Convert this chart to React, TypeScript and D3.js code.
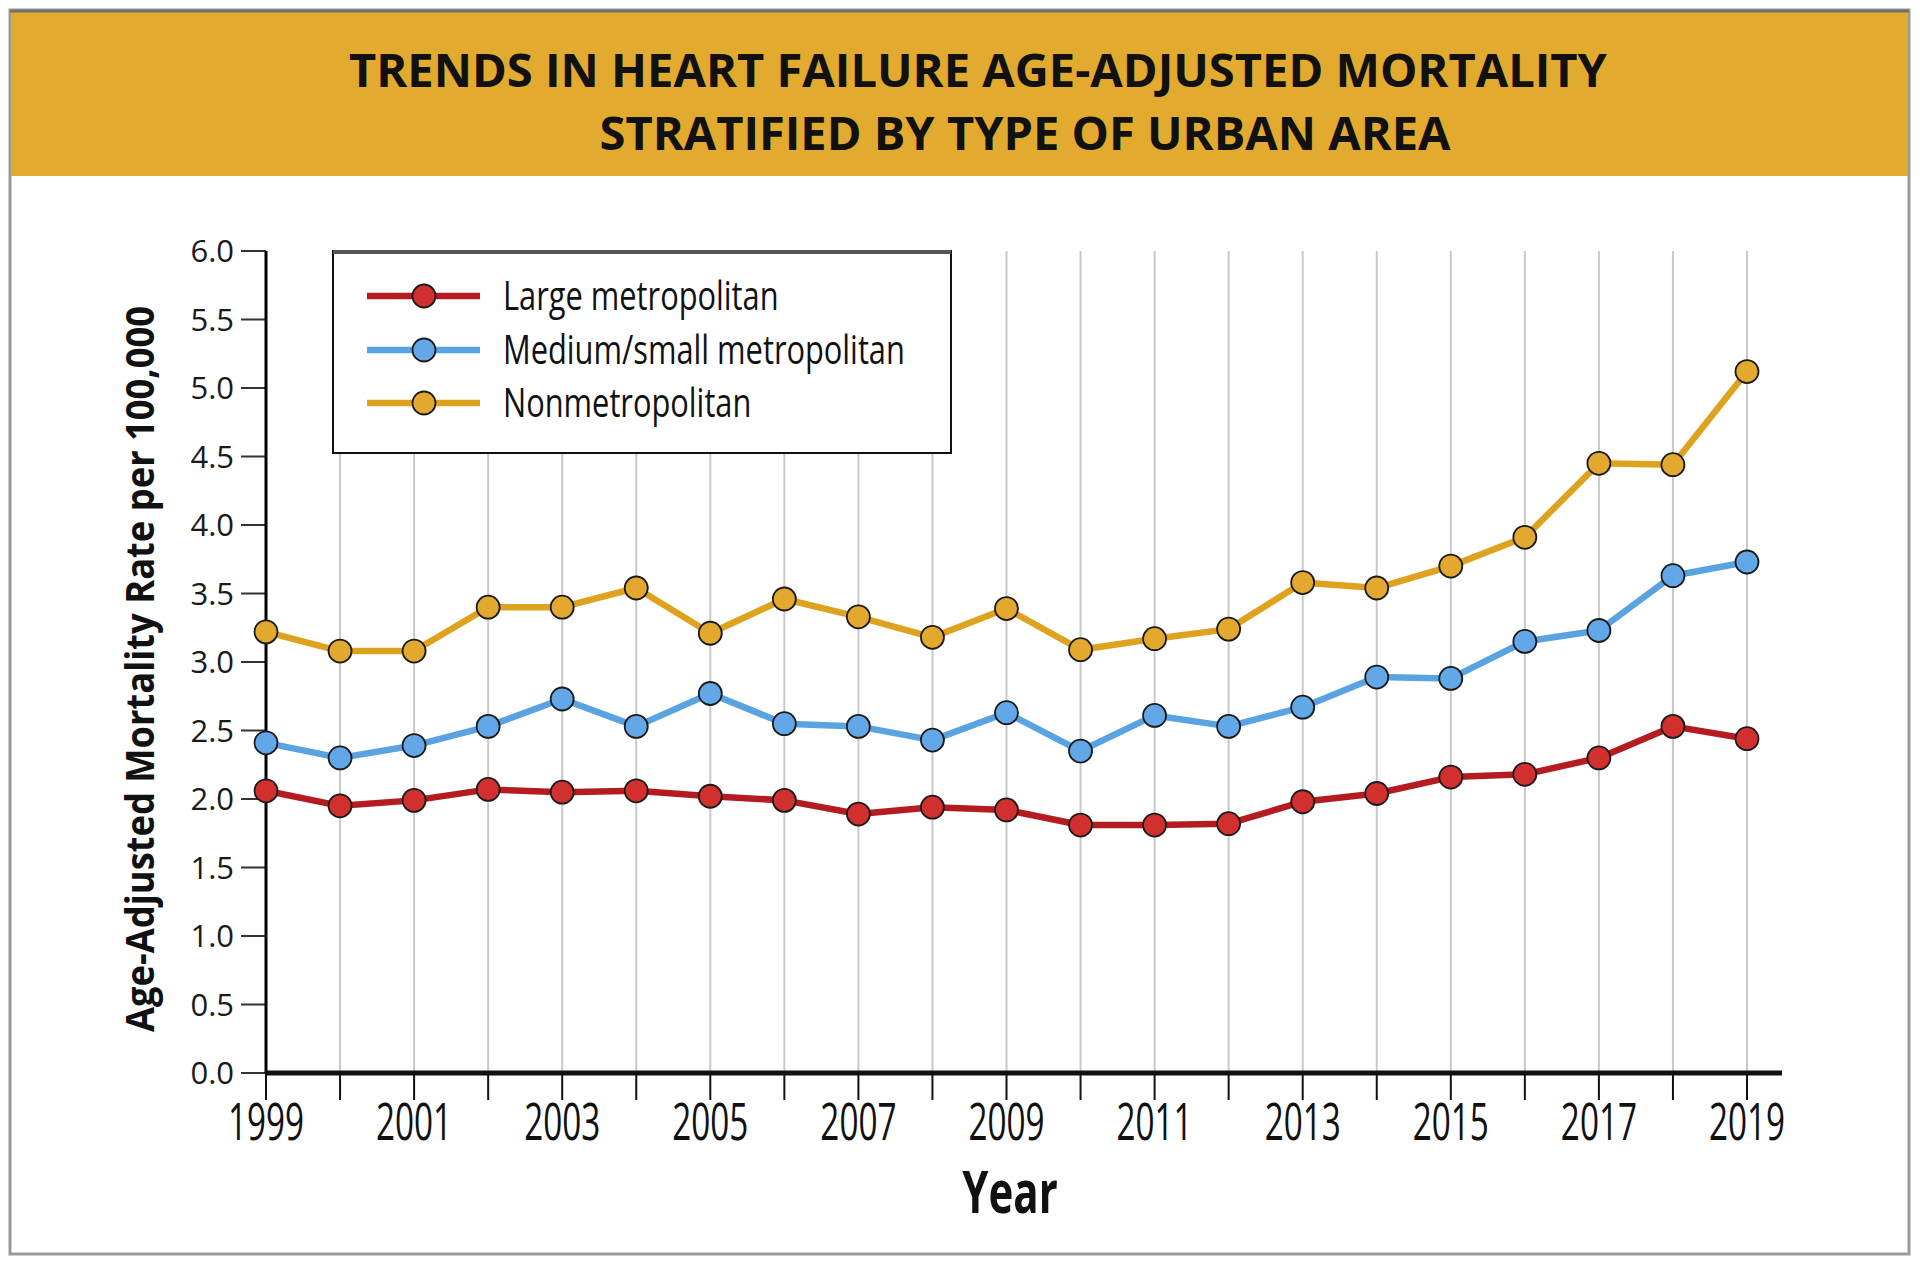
import React from 'react';
import * as d3 from 'd3';

const years = [1999, 2000, 2001, 2002, 2003, 2004, 2005, 2006, 2007, 2008, 2009, 2010, 2011, 2012, 2013, 2014, 2015, 2016, 2017, 2018, 2019];
const largeMetro = [2.06, 1.95, 1.99, 2.07, 2.05, 2.06, 2.02, 1.99, 1.89, 1.94, 1.92, 1.81, 1.81, 1.82, 1.98, 2.04, 2.16, 2.18, 2.30, 2.53, 2.44];
const mediumSmallMetro = [2.41, 2.30, 2.39, 2.53, 2.73, 2.53, 2.77, 2.55, 2.53, 2.43, 2.63, 2.35, 2.61, 2.53, 2.67, 2.89, 2.88, 3.15, 3.23, 3.63, 3.73];
const nonMetro = [3.22, 3.08, 3.08, 3.40, 3.40, 3.54, 3.21, 3.46, 3.33, 3.18, 3.39, 3.09, 3.17, 3.24, 3.58, 3.54, 3.70, 3.91, 4.45, 4.44, 5.12];
const seriesNames = ['Large metropolitan', 'Medium/small metropolitan', 'Nonmetropolitan'];
const yTickValues = [0, 0.5, 1.0, 1.5, 2.0, 2.5, 3.0, 3.5, 4.0, 4.5, 5.0, 5.5, 6.0];
const xLabelYears = [1999, 2001, 2003, 2005, 2007, 2009, 2011, 2013, 2015, 2017, 2019];
const titleLines = ['TRENDS IN HEART FAILURE AGE-ADJUSTED MORTALITY', 'STRATIFIED BY TYPE OF URBAN AREA'];
const yAxisTitle = 'Age-Adjusted Mortality Rate per 100,000';
const xAxisTitle = 'Year';

const seriesStyles = [
  { line: '#B41C22', fill: '#D2302E' },
  { line: '#5AA3E3', fill: '#62A8E8' },
  { line: '#DEA21F', fill: '#E3A92E' },
];

const FONT = '"Open Sans", "Noto Sans", sans-serif';

export default function App() {
  const W = 1920, H = 1264;
  const plotL = 266, plotR = 1747, plotT = 251, plotB = 1073, axisEnd = 1782;
  const x = d3.scaleLinear().domain([1999, 2019]).range([plotL, plotR]);
  const y = d3.scaleLinear().domain([0, 6]).range([plotB, plotT]);
  const series = [largeMetro, mediumSmallMetro, nonMetro];
  const line = d3.line<number>().x((_, i) => x(years[i])).y((d) => y(d));

  const legendX = 333, legendY = 251, legendW = 618, legendH = 202;
  const legendRows = [296, 350, 403];

  return (
    <svg width={W} height={H} style={{ position: 'absolute', left: 0, top: 0, background: '#fff' }} fontFamily={FONT}>
      {/* frame */}
      <rect x={10} y={10} width={1899} height={1244} fill="#fff" stroke="#9a9a9a" strokeWidth={3} />
      {/* title band */}
      <rect x={11} y={12} width={1897} height={164} fill="#E2AA2F" />
      <line x1={10} x2={1909} y1={11} y2={11} stroke="#6f6f6f" strokeWidth={3} />
      <text x={978} y={87} textAnchor="middle" fontWeight={700} fontSize={47} fill="#111"
        textLength={1258} lengthAdjust="spacingAndGlyphs">{titleLines[0]}</text>
      <text x={1025} y={150} textAnchor="middle" fontWeight={700} fontSize={47} fill="#111"
        textLength={851} lengthAdjust="spacingAndGlyphs">{titleLines[1]}</text>

      {/* vertical grid lines */}
      {years.slice(1).map((yr) => (
        <line key={yr} x1={x(yr)} x2={x(yr)} y1={plotT} y2={plotB} stroke="#c8c8c8" strokeWidth={2} />
      ))}

      {/* y ticks */}
      {yTickValues.map((v) => (
        <g key={v}>
          <line x1={plotL - 25} x2={plotL} y1={y(v)} y2={y(v)} stroke="#333" strokeWidth={2} />
          <text x={plotL - 32} y={y(v) + 11} textAnchor="end" fontSize={31} fill="#1a1a1a">{v.toFixed(1)}</text>
        </g>
      ))}
      {/* x ticks */}
      {years.map((yr) => (
        <line key={yr} x1={x(yr)} x2={x(yr)} y1={plotB} y2={plotB + 27} stroke="#111" strokeWidth={2} />
      ))}
      {xLabelYears.map((yr) => (
        <text key={yr} transform={`translate(${x(yr)},1140) scale(0.64,1)`} textAnchor="middle" fontSize={52} fill="#111">{yr}</text>
      ))}

      {/* axes */}
      <line x1={plotL} x2={plotL} y1={plotT} y2={plotB} stroke="#000" strokeWidth={3} />
      <line x1={plotL - 1} x2={axisEnd} y1={plotB} y2={plotB} stroke="#111" strokeWidth={5} />

      {/* axis titles */}
      <text transform={`translate(1010,1213) scale(0.7,1)`} textAnchor="middle" fontWeight={700} fontSize={60} fill="#111">{xAxisTitle}</text>
      <text transform={`translate(154,669) rotate(-90)`} textAnchor="middle" fontWeight={700} fontSize={40} fill="#111"
        textLength={726} lengthAdjust="spacingAndGlyphs">{yAxisTitle}</text>

      {/* series */}
      {series.map((s, si) => (
        <g key={si}>
          <path d={line(s) || ''} fill="none" stroke={seriesStyles[si].line} strokeWidth={6.5} strokeLinejoin="round" />
          {s.map((v, i) => (
            <circle key={i} cx={x(years[i])} cy={y(v)} r={11.5} fill={seriesStyles[si].fill} stroke="#1a1a1a" strokeWidth={1.8} />
          ))}
        </g>
      ))}

      {/* legend */}
      <rect x={legendX} y={legendY} width={legendW} height={legendH} fill="#fff" stroke="#111" strokeWidth={2} />
      <line x1={legendX} x2={legendX + legendW} y1={legendY + 1} y2={legendY + 1} stroke="#555" strokeWidth={4} />
      {seriesNames.map((name, si) => (
        <g key={name}>
          <line x1={367} x2={480} y1={legendRows[si]} y2={legendRows[si]} stroke={seriesStyles[si].line} strokeWidth={6.5} />
          <circle cx={424} cy={legendRows[si]} r={11.5} fill={seriesStyles[si].fill} stroke="#1a1a1a" strokeWidth={1.8} />
          <text transform={`translate(503,${legendRows[si] + 14}) scale(0.77,1)`} fontSize={40} fill="#111">{name}</text>
        </g>
      ))}
    </svg>
  );
}
